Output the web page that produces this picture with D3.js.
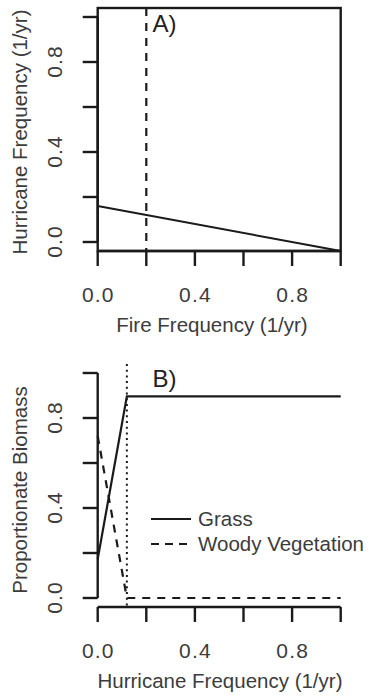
<!DOCTYPE html>
<html>
<head>
<meta charset="utf-8">
<script src="https://cdn.jsdelivr.net/npm/d3@7"></script>
<style>
  body { margin: 0; background: #fff; }
  svg { display: block; }
  text { font-family: "Liberation Sans", Arial, sans-serif; fill: #3c3c3c; }
</style>
</head>
<body>
<div id="chart"></div>
<script>
// panel A: boundary line and fire frequency threshold
const boundaryA = [[0, 0.16], [1, -0.04]];
const fireThreshold = 0.2;

// panel B: biomass against hurricane frequency
const grass = [[0, 0.173], [0.12, 0.896], [1, 0.896]];
const woody = [[0, 0.72], [0.12, 0], [1, 0]];
const hurricaneThreshold = 0.12;

const xTicks = [0, 0.2, 0.4, 0.6, 0.8, 1.0];
const yTicks = [0, 0.2, 0.4, 0.6, 0.8, 1.0];
const tickLabels = ["0.0", "", "0.4", "", "0.8", ""];

const legendNames = ["Grass", "Woody Vegetation"];

const width = 369, height = 698;
const ink = "#1a1a1a";

const svg = d3.select("#chart").append("svg")
    .attr("width", width)
    .attr("height", height);

const x = d3.scaleLinear().domain([0, 1]).range([97.7, 340.7]);

const drawPanel = (top, opts) => {
    // y domain gets R's 4% padding
    const y = d3.scaleLinear().domain([-0.04, 1.04]).range([top + 243, top]);
    const g = svg.append("g");

    // x axis along the bottom of the plot region
    const xAxis = g.append("g").attr("transform", `translate(0,${top + 243})`);
    xAxis.append("line")
        .attr("x1", x(0)).attr("x2", x(1))
        .attr("stroke", ink).attr("stroke-width", 2.4);
    xAxis.selectAll(".tk").data(xTicks).enter().append("line")
        .attr("x1", d => x(d)).attr("x2", d => x(d))
        .attr("y1", 0).attr("y2", 15)
        .attr("stroke", ink).attr("stroke-width", 2.4);
    xAxis.selectAll(".lb").data(xTicks).enter().append("text")
        .attr("x", d => x(d) + 0.6)
        .attr("y", 51)
        .attr("text-anchor", "middle")
        .style("font-size", "21px")
        .style("letter-spacing", "1.2px")
        .text((d, i) => tickLabels[i]);
    g.append("text")
        .attr("x", opts.xCenter)
        .attr("y", top + 243 + 80.5)
        .attr("text-anchor", "middle")
        .style("font-size", "20.5px")
        .text(opts.xTitle);

    // y axis, ticks 0..1
    const yAxis = g.append("g");
    yAxis.append("line")
        .attr("x1", x(0)).attr("x2", x(0))
        .attr("y1", y(0)).attr("y2", y(1))
        .attr("stroke", ink).attr("stroke-width", 2.4);
    yAxis.selectAll(".tk").data(yTicks).enter().append("line")
        .attr("x1", x(0) - 15).attr("x2", x(0))
        .attr("y1", d => y(d)).attr("y2", d => y(d))
        .attr("stroke", ink).attr("stroke-width", 2.4);
    yAxis.selectAll(".lb").data(yTicks).enter().append("text")
        .attr("transform", d => `translate(62,${y(d) - 0.6}) rotate(-90)`)
        .attr("text-anchor", "middle")
        .style("font-size", "21px")
        .style("letter-spacing", "1.2px")
        .text((d, i) => tickLabels[i]);
    g.append("text")
        .attr("transform", `translate(26.5,${opts.yCenter}) rotate(-90)`)
        .attr("text-anchor", "middle")
        .style("font-size", "20.5px")
        .text(opts.yTitle);

    g.append("text")
        .attr("x", 152.5)
        .attr("y", top + opts.tagDy)
        .style("font-size", "24px")
        .style("fill", "#222")
        .text(opts.tag);

    return { g, y };
};

// ---- Panel A ----
const A = drawPanel(8, {
    xTitle: "Fire Frequency (1/yr)", xCenter: 212,
    yTitle: "Hurricane Frequency (1/yr)", yCenter: 132,
    tag: "A)", tagDy: 24
});
A.g.append("rect")
    .attr("x", x(0)).attr("y", A.y(1.04))
    .attr("width", x(1) - x(0)).attr("height", A.y(-0.04) - A.y(1.04))
    .attr("fill", "none").attr("stroke", ink).attr("stroke-width", 2.4);

const lineA = d3.line().x(d => x(d[0])).y(d => A.y(d[1]));
A.g.append("path").datum(boundaryA)
    .attr("d", lineA)
    .attr("fill", "none").attr("stroke", ink).attr("stroke-width", 2);
A.g.append("line")
    .attr("x1", x(fireThreshold)).attr("x2", x(fireThreshold))
    .attr("y1", A.y(1.04)).attr("y2", A.y(-0.04))
    .attr("stroke", ink).attr("stroke-width", 2.2)
    .attr("stroke-dasharray", "8,7");

// ---- Panel B ----
const B = drawPanel(364, {
    xTitle: "Hurricane Frequency (1/yr)", xCenter: 220,
    yTitle: "Proportionate Biomass", yCenter: 490,
    tag: "B)", tagDy: 22.5
});
const lineB = d3.line().x(d => x(d[0])).y(d => B.y(d[1]));
B.g.append("line")
    .attr("x1", x(hurricaneThreshold)).attr("x2", x(hurricaneThreshold))
    .attr("y1", B.y(1.04)).attr("y2", B.y(-0.04))
    .attr("stroke", ink).attr("stroke-width", 2)
    .attr("stroke-dasharray", "2,3.7");
B.g.append("path").datum(grass)
    .attr("d", lineB)
    .attr("fill", "none").attr("stroke", ink).attr("stroke-width", 2.2);
B.g.append("path").datum(woody)
    .attr("d", lineB)
    .attr("fill", "none").attr("stroke", ink).attr("stroke-width", 2.2)
    .attr("stroke-dasharray", "8,7");

// legend
const legend = B.g.append("g");
const dashes = [null, "8,6"];
legendNames.forEach((name, i) => {
    const ly = 519 + i * 25;
    legend.append("line")
        .attr("x1", 151).attr("x2", 191)
        .attr("y1", ly).attr("y2", ly)
        .attr("stroke", ink).attr("stroke-width", 2.2)
        .attr("stroke-dasharray", dashes[i]);
    legend.append("text")
        .attr("x", 198).attr("y", ly + 7)
        .style("font-size", "20.5px")
        .text(name);
});
</script>
</body>
</html>
